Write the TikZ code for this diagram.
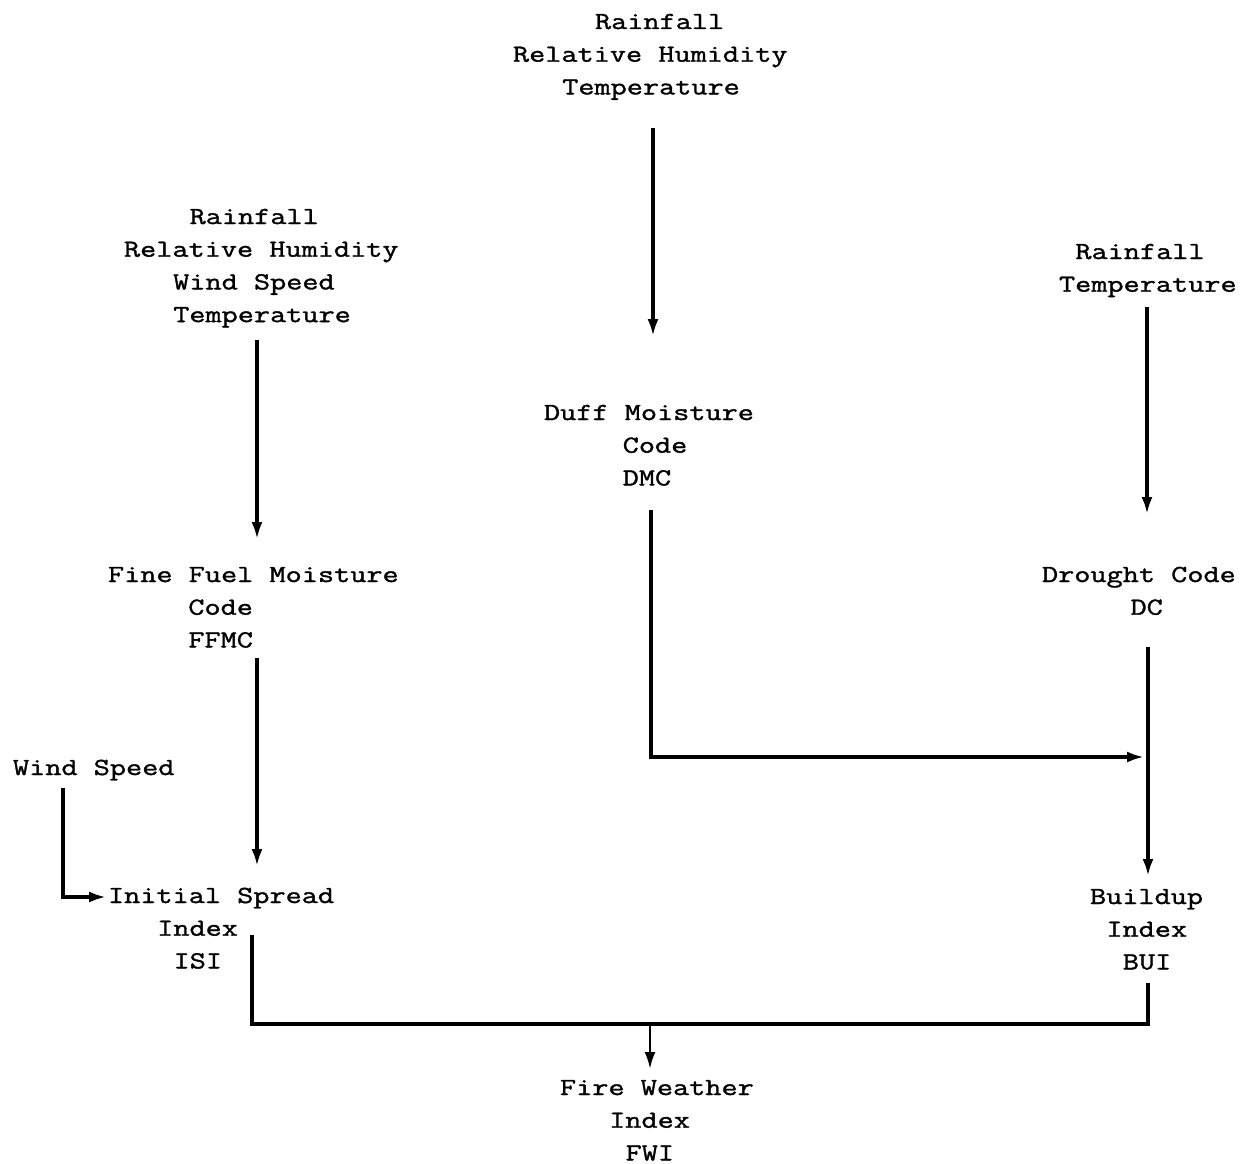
\documentclass[tikz,border=0pt]{standalone}
\usepackage{fontspec}
\newfontfamily\twfam{lmmono12-regular}[Extension=.otf,FakeStretch=1.28,FakeBold=1.4]
\newcommand\tw{\twfam\fontsize{24.5}{32.7}\selectfont}
\usetikzlibrary{arrows.meta}
\newlength\chw
\setlength\chw{16.4pt}
\newcommand\ind[1]{\hspace*{#1\chw}}
\newcommand\lines[1]{\begin{tabular}[t]{@{}l@{}}#1\end{tabular}}
\begin{document}
\begin{tikzpicture}[x=1pt,y=-1pt,
  lbl/.style={anchor=base west,inner sep=0pt,outer sep=0pt,font=\tw},
  conn/.style={line width=3.2pt,line cap=butt,line join=miter},
  arr/.style={conn,-{Latex[length=17pt,width=11pt]}},
  thick bar/.style={line width=4.8pt,line join=miter}]
\useasboundingbox (0,0) rectangle (1247,1164);

% text blocks
\node[lbl] (top)  at (513,29)  {\lines{\ind{5}Rainfall\\Relative Humidity\\\ind{3}Temperature}};
\node[lbl] (lft)  at (124,224) {\lines{\ind{4}Rainfall\\Relative Humidity\\\ind{3}Wind Speed\\\ind{3}Temperature}};
\node[lbl] (rgt)  at (1059,259) {\lines{\ind{1}Rainfall\\Temperature}};
\node[lbl] (dmc)  at (544,420) {\lines{Duff Moisture\\\ind{4.8}Code\\\ind{4.8}DMC}};
\node[lbl] (ffmc) at (108,582) {\lines{Fine Fuel Moisture\\\ind{4.9}Code\\\ind{4.9}FFMC}};
\node[lbl] (dc)   at (1042,582) {\lines{Drought Code\\\ind{5.4}DC}};
\node[lbl] (wind) at (13,775)  {Wind Speed};
\node[lbl] (isi)  at (108,903) {\lines{Initial Spread\\\ind{3}Index\\\ind{4}ISI}};
\node[lbl] (bui)  at (1090,904) {\lines{Buildup\\\ind{1}Index\\\ind{2}BUI}};
\node[lbl] (fwi)  at (560,1095) {\lines{Fire Weather\\\ind{3}Index\\\ind{4}FWI}};

% connector end points
\coordinate (topS)  at (653,128);  \coordinate (dmcN)  at (653,336);
\coordinate (lftS)  at (257,340);  \coordinate (ffmcN) at (257,539);
\coordinate (rgtS)  at (1147,307); \coordinate (dcN)   at (1147,514);
\coordinate (dmcS)  at (651,510);  \coordinate (dmcC)  at (651,757); \coordinate (jn) at (1144,757);
\coordinate (ffmcS) at (257,658);  \coordinate (isiN)  at (257,866);
\coordinate (dcS)   at (1148,647); \coordinate (buiN)  at (1148,876);
\coordinate (windS) at (63,788);   \coordinate (windC) at (63,897);  \coordinate (isiW) at (106,897);
\coordinate (isiS)  at (252,935);  \coordinate (isiC)  at (252,1024);
\coordinate (buiC)  at (1148,1024); \coordinate (buiS) at (1148,983);
\coordinate (fwiT)  at (650,1024); \coordinate (fwiN)  at (650,1069);

\draw[arr] (topS) -- (dmcN);
\draw[arr] (lftS) -- (ffmcN);
\draw[arr] (rgtS) -- (dcN);
\draw[arr] (dmcS) -- (dmcC) -- (jn);
\draw[arr] (ffmcS) -- (isiN);
\draw[arr] (dcS) -- (buiN);
\draw[arr] (windS) -- (windC) -- (isiW);
\draw[thick bar] (isiS) -- (isiC) -- (buiC) -- (buiS);
\draw[arr,line width=2.6pt] (fwiT) -- (fwiN);
\end{tikzpicture}
\end{document}
